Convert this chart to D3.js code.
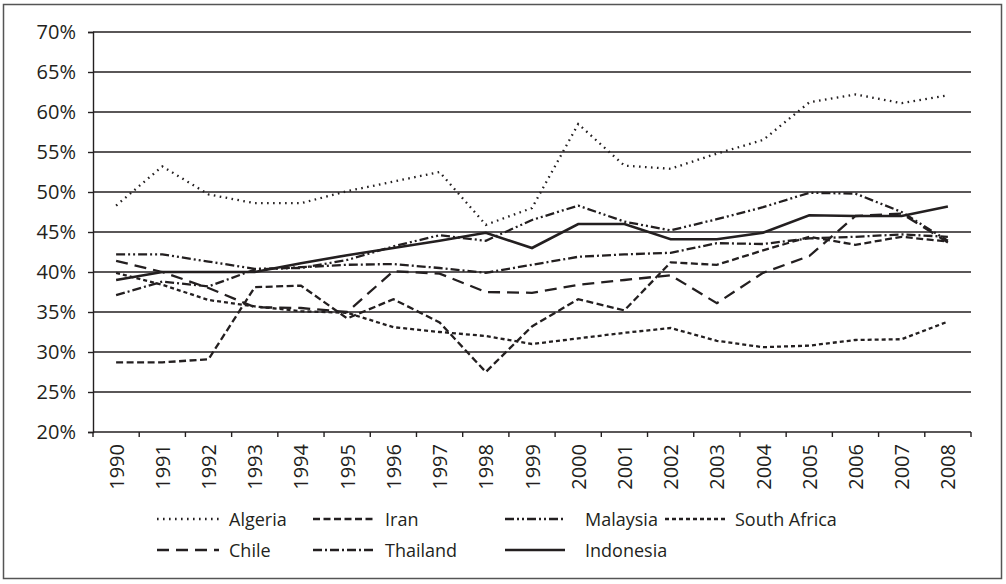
<!DOCTYPE html>
<html>
<head>
<meta charset="utf-8">
<script src="https://cdn.jsdelivr.net/npm/d3@7"></script>
<style>
  body { margin: 0; background: #fff; }
  svg text { font-family: "Open Sans", "Noto Sans", sans-serif; fill: #231f20; }
</style>
</head>
<body>
<div id="chart"></div>
<script>
const years = ["1990","1991","1992","1993","1994","1995","1996","1997","1998","1999",
               "2000","2001","2002","2003","2004","2005","2006","2007","2008"];
const yTicks = [20, 25, 30, 35, 40, 45, 50, 55, 60, 65, 70];

const algeria     = [48.3,53.2,49.7,48.6,48.6,50.1,51.3,52.5,45.9,48.0,58.5,53.3,52.9,54.8,56.5,61.2,62.2,61.1,62.1];
const iran        = [28.7,28.7,29.1,38.1,38.3,34.2,36.6,33.7,27.5,33.2,36.6,35.2,41.2,40.9,42.7,44.4,43.4,44.4,43.8];
const malaysia    = [42.2,42.2,41.3,40.4,40.5,41.5,43.2,44.6,43.9,46.5,48.3,46.3,45.2,46.6,48.1,49.9,49.8,47.5,43.9];
const southAfrica = [39.9,38.4,36.5,35.7,35.1,34.9,33.1,32.5,32.0,31.0,31.7,32.4,33.0,31.4,30.6,30.8,31.5,31.6,33.8];
const chile       = [41.4,40.0,38.0,35.6,35.5,35.0,40.1,39.8,37.5,37.4,38.4,39.0,39.6,36.1,39.9,42.0,47.0,47.3,43.7];
const thailand    = [37.1,38.8,38.2,40.3,40.6,40.9,41.0,40.5,39.9,40.9,41.9,42.2,42.4,43.6,43.5,44.2,44.4,44.7,44.4];
const indonesia   = [39.0,40.0,40.0,40.0,41.1,42.1,43.0,43.9,44.9,43.0,46.0,46.0,44.1,44.1,44.9,47.1,47.0,47.0,48.2];

const seriesNames = ["Algeria","Iran","Malaysia","South Africa","Chile","Thailand","Indonesia"];
const seriesValues = [algeria, iran, malaysia, southAfrica, chile, thailand, indonesia];

// line styles, same order as the names
const dashes = ["1.6,4.4", "7,3.5", "9,3,2,3,2,3", "4,3", "12,7", "9,3,2,3", null];

const width = 1006, height = 584;
const plotLeft = 93, plotRight = 971, plotTop = 32, plotBottom = 432;
const ink = "#231f20";

const svg = d3.select("#chart").append("svg")
  .attr("width", width)
  .attr("height", height);

// outer frame
svg.append("rect")
  .attr("x", 3.5).attr("y", 4.5)
  .attr("width", 998).attr("height", 574)
  .attr("fill", "none")
  .attr("stroke", "#555")
  .attr("stroke-width", 1.5);

const x = d3.scaleBand().domain(years).range([plotLeft, plotRight]).padding(0);
const y = d3.scaleLinear().domain([20, 70]).range([plotBottom, plotTop]);
const cx = d => x(d) + x.bandwidth() / 2;

// gridlines
svg.append("g")
  .selectAll("line")
  .data(yTicks.filter(t => t > 20))
  .enter().append("line")
  .attr("x1", plotLeft).attr("x2", plotRight)
  .attr("y1", d => y(d)).attr("y2", d => y(d))
  .attr("stroke", ink)
  .attr("stroke-width", 1.4);

// y axis
const yAxis = svg.append("g")
  .attr("transform", "translate(" + plotLeft + ",0)")
  .call(d3.axisLeft(y).tickValues(yTicks).tickSize(5).tickFormat(d => d + "%"));
yAxis.select(".domain").attr("stroke", ink).attr("stroke-width", 1.4);
yAxis.selectAll(".tick line").attr("stroke", ink).attr("stroke-width", 1.4);
yAxis.selectAll(".tick text")
  .attr("x", -17)
  .attr("font-size", "20px")
  .style("font-family", "'Open Sans', sans-serif")
  .attr("fill", ink);

// x axis with ticks between categories
const xAxisG = svg.append("g")
  .attr("transform", "translate(0," + plotBottom + ")");
xAxisG.append("line")
  .attr("x1", plotLeft).attr("x2", plotRight)
  .attr("stroke", ink).attr("stroke-width", 1.4);
xAxisG.selectAll("line.tk")
  .data(years.concat(["end"]))
  .enter().append("line")
  .attr("class", "tk")
  .attr("x1", (d, i) => plotLeft + i * x.bandwidth())
  .attr("x2", (d, i) => plotLeft + i * x.bandwidth())
  .attr("y1", 0).attr("y2", 5)
  .attr("stroke", ink).attr("stroke-width", 1.4);
xAxisG.selectAll("text")
  .data(years)
  .enter().append("text")
  .attr("transform", d => "translate(" + (cx(d) + 7.5) + ",12) rotate(-90)")
  .attr("text-anchor", "end")
  .attr("font-size", "20px")
  .text(d => d);

// series lines
const line = d3.line()
  .x((d, i) => cx(years[i]))
  .y(d => y(d));

svg.append("g")
  .selectAll("path")
  .data(seriesValues)
  .enter().append("path")
  .attr("d", d => line(d))
  .attr("fill", "none")
  .attr("stroke", ink)
  .attr("stroke-width", (d, i) => i == 6 ? 2.6 : 2.3)
  .attr("stroke-dasharray", (d, i) => dashes[i]);

// legend
const legendPos = [
  [157, 519], [313, 519], [505, 519], [665, 519],
  [157, 550], [313, 550], [505, 550]
];
const sampleLen = [62, 62, 58, 60, 62, 62, 60];

const legend = svg.append("g")
  .selectAll("g")
  .data(seriesNames)
  .enter().append("g")
  .attr("transform", (d, i) => "translate(" + legendPos[i][0] + "," + legendPos[i][1] + ")");

legend.append("line")
  .attr("x1", 0)
  .attr("x2", (d, i) => sampleLen[i])
  .attr("stroke", ink)
  .attr("stroke-width", (d, i) => i == 6 ? 2.6 : 2.3)
  .attr("stroke-dasharray", (d, i) => dashes[i]);

legend.append("text")
  .attr("x", (d, i) => i == 2 || i == 6 ? 80 : sampleLen[i] + 10)
  .attr("y", 6.5)
  .attr("font-size", "18px")
  .text(d => d);
</script>
</body>
</html>
